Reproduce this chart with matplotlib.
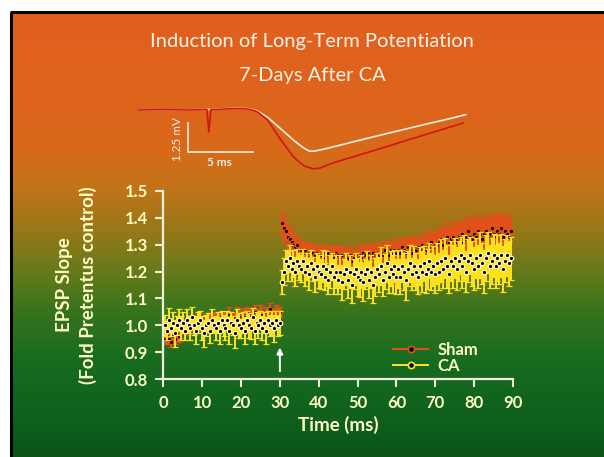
import numpy as np
import matplotlib
matplotlib.use("Agg")
import matplotlib.pyplot as plt
from matplotlib.lines import Line2D

plt.rcParams["font.family"] = ["Lato", "DejaVu Sans"]

# ---------------- data ----------------
time_base = np.arange(0.5, 30.01, 0.5)
time_post = np.arange(30.5, 89.51, 0.5)

sham_base = [
    0.95, 0.96, 0.95, 0.94, 0.96, 0.95, 0.97, 0.96, 0.98, 0.99,
    1.00, 0.99, 1.01, 1.00, 1.01, 1.02, 1.00, 1.01, 1.02, 1.01,
    1.00, 1.02, 1.01, 1.02, 1.01, 1.03, 1.02, 1.01, 1.03, 1.02,
    1.02, 1.03, 1.02, 1.04, 1.03, 1.02, 1.03, 1.04, 1.03, 1.02,
    1.04, 1.03, 1.05, 1.04, 1.03, 1.04, 1.05, 1.03, 1.04, 1.05,
    1.04, 1.03, 1.05, 1.04, 1.06, 1.04, 1.03, 1.05, 1.04, 1.05]
sham_base_err = [
    0.02, 0.025, 0.02, 0.02, 0.025, 0.02, 0.03, 0.02, 0.025, 0.02,
    0.02, 0.025, 0.03, 0.02, 0.025, 0.02, 0.02, 0.03, 0.025, 0.02,
    0.025, 0.02, 0.03, 0.025, 0.02, 0.02, 0.03, 0.025, 0.02, 0.025,
    0.03, 0.02, 0.025, 0.03, 0.02, 0.025, 0.02, 0.03, 0.025, 0.02,
    0.025, 0.03, 0.02, 0.025, 0.03, 0.02, 0.025, 0.03, 0.02, 0.025,
    0.03, 0.025, 0.02, 0.03, 0.025, 0.02, 0.03, 0.025, 0.03, 0.02]

ca_base = [
    1.00, 0.98, 1.02, 0.99, 1.01, 0.97, 1.00, 1.02, 0.99, 1.01,
    0.98, 1.02, 1.00, 0.99, 1.03, 1.00, 0.98, 1.01, 1.02, 0.99,
    0.97, 1.00, 1.01, 0.98, 1.02, 1.00, 0.99, 1.01, 0.98, 1.02,
    1.00, 0.99, 1.02, 0.98, 1.01, 1.00, 0.97, 1.02, 1.00, 0.99,
    1.01, 0.98, 1.02, 1.00, 0.99, 1.03, 0.98, 1.01, 1.00, 1.02,
    0.99, 1.01, 0.98, 1.02, 1.00, 1.01, 0.99, 1.02, 1.00, 1.01]
ca_base_err = [
    0.04, 0.035, 0.045, 0.03, 0.04, 0.05, 0.035, 0.04, 0.045, 0.04,
    0.035, 0.04, 0.03, 0.045, 0.04, 0.035, 0.05, 0.04, 0.035, 0.045,
    0.05, 0.04, 0.035, 0.045, 0.04, 0.03, 0.045, 0.04, 0.05, 0.035,
    0.04, 0.045, 0.035, 0.05, 0.04, 0.035, 0.055, 0.04, 0.045, 0.035,
    0.04, 0.05, 0.035, 0.045, 0.04, 0.035, 0.05, 0.04, 0.045, 0.035,
    0.045, 0.04, 0.05, 0.035, 0.04, 0.045, 0.05, 0.035, 0.04, 0.045]

sham_post = [
    1.38, 1.36, 1.35, 1.33, 1.32, 1.31, 1.30, 1.29, 1.30, 1.28,
    1.28, 1.27, 1.28, 1.26, 1.27, 1.27, 1.27, 1.26, 1.27, 1.26,
    1.26, 1.27, 1.25, 1.26, 1.27, 1.25, 1.26, 1.25, 1.27, 1.26,
    1.25, 1.26, 1.24, 1.26, 1.25, 1.26, 1.24, 1.25, 1.26, 1.25,
    1.26, 1.25, 1.27, 1.26, 1.25, 1.27, 1.26, 1.27, 1.26, 1.26,
    1.26, 1.27, 1.26, 1.28, 1.27, 1.26, 1.28, 1.27, 1.28, 1.27,
    1.28, 1.27, 1.29, 1.28, 1.27, 1.29, 1.28, 1.27, 1.29, 1.28,
    1.29, 1.28, 1.30, 1.29, 1.28, 1.30, 1.29, 1.31, 1.29, 1.30,
    1.30, 1.31, 1.32, 1.30, 1.31, 1.33, 1.31, 1.32, 1.33, 1.31,
    1.32, 1.33, 1.31, 1.34, 1.32, 1.33, 1.35, 1.33, 1.32, 1.34,
    1.33, 1.35, 1.34, 1.32, 1.34, 1.35, 1.33, 1.34, 1.36, 1.34,
    1.33, 1.35, 1.34, 1.36, 1.33, 1.35, 1.34, 1.33, 1.35]
sham_post_err = [
    0.04, 0.05, 0.04, 0.045, 0.04, 0.04, 0.035, 0.04, 0.035, 0.04,
    0.035, 0.04, 0.03, 0.04, 0.035, 0.03, 0.04, 0.035, 0.03, 0.04,
    0.035, 0.03, 0.04, 0.035, 0.03, 0.04, 0.035, 0.04, 0.03, 0.035,
    0.04, 0.035, 0.04, 0.03, 0.035, 0.04, 0.035, 0.03, 0.04, 0.035,
    0.035, 0.04, 0.035, 0.04, 0.045, 0.035, 0.04, 0.035, 0.04, 0.045,
    0.04, 0.045, 0.04, 0.035, 0.045, 0.04, 0.035, 0.045, 0.04, 0.045,
    0.045, 0.04, 0.035, 0.045, 0.05, 0.04, 0.045, 0.05, 0.04, 0.045,
    0.04, 0.05, 0.045, 0.04, 0.05, 0.045, 0.05, 0.04, 0.05, 0.045,
    0.05, 0.055, 0.045, 0.06, 0.05, 0.055, 0.06, 0.05, 0.055, 0.06,
    0.055, 0.06, 0.065, 0.05, 0.06, 0.065, 0.055, 0.06, 0.065, 0.06,
    0.065, 0.06, 0.055, 0.07, 0.06, 0.065, 0.07, 0.06, 0.055, 0.065,
    0.06, 0.07, 0.065, 0.06, 0.07, 0.065, 0.06, 0.07, 0.065]

ca_post = [
    1.16, 1.20, 1.24, 1.22, 1.25, 1.21, 1.23, 1.20, 1.24, 1.22,
    1.21, 1.24, 1.20, 1.22, 1.19, 1.23, 1.21, 1.18, 1.22, 1.20,
    1.19, 1.22, 1.18, 1.21, 1.17, 1.20, 1.22, 1.18, 1.20, 1.17,
    1.20, 1.16, 1.19, 1.21, 1.17, 1.20, 1.15, 1.19, 1.21, 1.18,
    1.17, 1.20, 1.16, 1.19, 1.21, 1.17, 1.20, 1.15, 1.18, 1.21,
    1.19, 1.22, 1.17, 1.20, 1.23, 1.18, 1.21, 1.19, 1.22, 1.18,
    1.21, 1.18, 1.22, 1.20, 1.17, 1.21, 1.23, 1.19, 1.22, 1.20,
    1.18, 1.22, 1.20, 1.23, 1.19, 1.21, 1.24, 1.20, 1.22, 1.19,
    1.23, 1.20, 1.24, 1.21, 1.25, 1.22, 1.19, 1.24, 1.22, 1.25,
    1.21, 1.24, 1.26, 1.22, 1.25, 1.20, 1.24, 1.26, 1.23, 1.21,
    1.25, 1.22, 1.26, 1.23, 1.20, 1.25, 1.27, 1.22, 1.24, 1.26,
    1.22, 1.25, 1.23, 1.26, 1.21, 1.24, 1.26, 1.23, 1.25]
ca_post_err = [
    0.045, 0.05, 0.04, 0.055, 0.05, 0.045, 0.05, 0.055, 0.045, 0.05,
    0.05, 0.045, 0.055, 0.05, 0.06, 0.05, 0.045, 0.055, 0.05, 0.06,
    0.055, 0.06, 0.05, 0.065, 0.055, 0.06, 0.05, 0.065, 0.06, 0.055,
    0.06, 0.065, 0.055, 0.06, 0.07, 0.06, 0.065, 0.055, 0.06, 0.07,
    0.065, 0.06, 0.07, 0.055, 0.065, 0.07, 0.06, 0.065, 0.07, 0.06,
    0.065, 0.07, 0.06, 0.065, 0.07, 0.06, 0.065, 0.07, 0.06, 0.065,
    0.07, 0.065, 0.06, 0.07, 0.075, 0.065, 0.07, 0.06, 0.075, 0.07,
    0.065, 0.07, 0.075, 0.065, 0.07, 0.075, 0.065, 0.07, 0.075, 0.07,
    0.075, 0.07, 0.08, 0.07, 0.075, 0.08, 0.07, 0.075, 0.08, 0.075,
    0.08, 0.075, 0.07, 0.08, 0.085, 0.075, 0.08, 0.07, 0.085, 0.08,
    0.075, 0.08, 0.085, 0.075, 0.08, 0.085, 0.075, 0.08, 0.085, 0.08,
    0.08, 0.085, 0.075, 0.08, 0.085, 0.08, 0.075, 0.085, 0.08]

# example field potential traces (ms, mV)
trace_ca_ms = [0, 2, 4, 6, 7, 8, 8.6, 9.2, 10, 11, 12, 12.7, 13.2, 13.6,
               14.5, 16, 18, 20, 22, 24, 25.2]
trace_ca_mv = [0, 0, 0.01, 0.03, 0.06, 0.07, 0.05, -0.05, -0.33, -0.82,
               -1.32, -1.62, -1.78, -1.77, -1.66, -1.45, -1.17, -0.9,
               -0.63, -0.37, -0.2]
trace_sham_ms = [0, 2, 4, 5.3, 5.45, 5.6, 6, 7, 8, 8.6, 9.2, 10, 11, 12,
                 12.8, 13.5, 14, 15, 17, 19, 21, 23, 25]
trace_sham_mv = [0, 0.01, 0, 0.02, -0.95, 0.02, 0.02, 0.05, 0.06, 0.03,
                 -0.08, -0.45, -1.3, -2.05, -2.42, -2.54, -2.5, -2.28,
                 -1.94, -1.6, -1.25, -0.91, -0.56]

y_ticks = [0.8, 0.9, 1.0, 1.1, 1.2, 1.3, 1.4, 1.5]
x_ticks = [0, 10, 20, 30, 40, 50, 60, 70, 80, 90]

# ---------------- figure ----------------
W, H = 604, 457
fig = plt.figure(figsize=(W / 100, H / 100), dpi=100)
fig.patch.set_facecolor("white")


def fx(px):
    return px / W


def fy(py):
    return 1 - py / H


# slide background with vertical orange-to-green gradient
bg = fig.add_axes([0, 0, 1, 1], zorder=-10)
bg.set_xlim(0, W)
bg.set_ylim(H, 0)
bg.axis("off")
stops_y = [12, 100, 150, 190, 230, 270, 310, 360, 420, 457]
stops_rgb = np.array([
    (224, 96, 30), (222, 100, 28), (216, 106, 26), (192, 116, 24),
    (152, 120, 24), (104, 122, 26), (56, 116, 28), (24, 108, 32),
    (14, 96, 28), (10, 84, 24)]) / 255.0
rows = np.arange(12, H + 1)
grad = np.stack([np.interp(rows, stops_y, stops_rgb[:, k]) for k in range(3)], axis=-1)
bg.imshow(grad[:, None, :], extent=[11, W, H, 12], aspect="auto", interpolation="bilinear")
bg.plot([11, 11], [H, 11.5], color="black", lw=2.2, solid_capstyle="butt")
bg.plot([10, W], [12, 12], color="black", lw=2.2, solid_capstyle="butt")

# title
title_color = "#FFF2E6"
fig.text(fx(312), fy(42), "Induction of Long-Term Potentiation", ha="center", va="center",
         fontsize=14.5, color=title_color)
fig.text(fx(312), fy(75), "7-Days After CA", ha="center", va="center",
         fontsize=14.5, color=title_color)

# inset with representative traces
ins = fig.add_axes([fx(130), fy(178), fx(475) - fx(130), fy(100) - fy(178)])
ins.set_xlim(-0.615, 25.92)
ins.set_ylim(-2.93, 0.43)
ins.axis("off")
ins.plot(trace_ca_ms, trace_ca_mv, color="#F6EEE6", lw=1.2)
ins.plot(trace_sham_ms, trace_sham_mv, color="#D2180E", lw=1.2)
# scale bar: 5 ms x 1.25 mV
ins.plot([3.85, 3.85, 8.85], [-0.56, -1.81, -1.81], color="#F6EEE6", lw=1.2)
ins.text(3.0, -1.25, "1.25 mV", rotation=90, ha="center", va="center",
         fontsize=8.5, color="#F6EEE6")
ins.text(6.3, -2.28, "5 ms", ha="center", va="center", fontsize=8.5,
         color="#F6EEE6", fontweight="bold")

# main plot
ax = fig.add_axes([fx(163.3), fy(379.3), fx(513) - fx(163.3), fy(190.7) - fy(379.3)])
ax.set_facecolor("none")
ax.set_xlim(0, 90)
ax.set_ylim(0.8, 1.5)

sham_color = "#E4501A"
ca_color = "#FFE41C"
t_all = np.concatenate([time_base, time_post])
ax.errorbar(t_all, sham_base + sham_post, yerr=sham_base_err + sham_post_err, fmt="o",
            ms=3.2, mfc="black", mec="#E4501A", mew=0.9, ecolor=sham_color,
            elinewidth=1.4, capsize=2.2, capthick=1.4, zorder=2, clip_on=False)
ax.errorbar(t_all, ca_base + ca_post, yerr=ca_base_err + ca_post_err, fmt="o",
            ms=3.2, mfc="black", mec="#FFF6B8", mew=0.9, ecolor=ca_color,
            elinewidth=1.4, capsize=2.2, capthick=1.4, zorder=3, clip_on=False)

# tetanus marker
ax.annotate("", xy=(30, 0.918), xytext=(30, 0.83),
            arrowprops=dict(arrowstyle="-|>", color="white", lw=1.4,
                            mutation_scale=9, shrinkA=0, shrinkB=0))

label_color = "#FFFCC4"
spine_color = "#F2F0DC"
for s in ["top", "right"]:
    ax.spines[s].set_visible(False)
for s in ["left", "bottom"]:
    ax.spines[s].set_color(spine_color)
    ax.spines[s].set_linewidth(1.6)
ax.set_xticks(x_ticks)
ax.set_yticks(y_ticks)
ax.set_yticklabels([f"{v:.1f}" for v in y_ticks])
ax.tick_params(direction="out", length=6, width=1.5, color=spine_color,
               labelcolor=label_color, labelsize=12, pad=5)
for lab in ax.get_xticklabels() + ax.get_yticklabels():
    lab.set_fontweight("bold")

ax.set_xlabel("Time (ms)", fontsize=13.5, fontweight="bold", color=label_color, labelpad=4)
ax.set_ylabel("EPSP Slope\n(Fold Pretentus control)", fontsize=13.5, fontweight="bold",
              color=label_color, labelpad=20, linespacing=1.4)

handles = [
    Line2D([], [], color=sham_color, lw=1.4, marker="o", ms=4.5, mfc="black",
           mec=sham_color, mew=1.2),
    Line2D([], [], color=ca_color, lw=1.4, marker="o", ms=4.5, mfc="black",
           mec=ca_color, mew=1.2),
]
leg = fig.legend(handles, ["Sham", "CA"], loc="center left",
                 bbox_to_anchor=(fx(393), fy(358)), bbox_transform=fig.transFigure,
                 frameon=False, fontsize=12, handlelength=2.1, handletextpad=0.55,
                 labelspacing=0.0, borderpad=0.0, borderaxespad=0.0)
for txt in leg.get_texts():
    txt.set_color(label_color)
    txt.set_fontweight("bold")

fig.savefig("out.png", dpi=100, facecolor=fig.get_facecolor())
